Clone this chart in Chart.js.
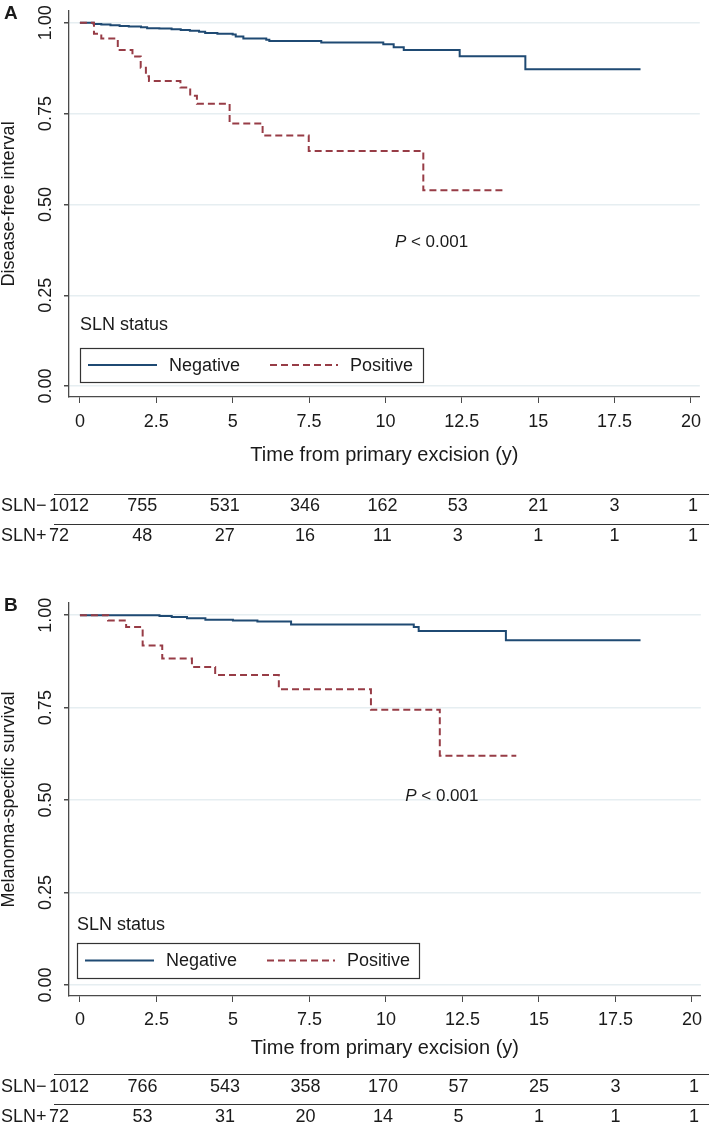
<!DOCTYPE html>
<html>
<head>
<meta charset="utf-8">
<title>SLN status survival curves</title>
<script src="https://cdn.jsdelivr.net/npm/chart.js@4.4.1/dist/chart.umd.min.js"></script>
<style>
   html, body { margin: 0; padding: 0; background: #fff; }
   #wrap { position: relative; width: 709px; height: 1125px; }
   canvas { position: absolute; left: 0; }
</style>
</head>
<body>
<div id="wrap">
   <canvas id="chartA" width="709" height="560" style="top:0px"></canvas>
   <canvas id="chartB" width="709" height="565" style="top:560px"></canvas>
</div>
<script>
// #region Data
const xTicks = [0, 2.5, 5, 7.5, 10, 12.5, 15, 17.5, 20];
const yTicks = [0, 0.25, 0.5, 0.75, 1];
const groupLabels = ['Negative', 'Positive'];
const riskRowLabels = ['SLN\u2212', 'SLN+'];

// Panel A - disease-free interval
const dfiNegTime = [0, 0.45, 0.7, 1.0, 1.3, 1.6, 2.0, 2.2, 2.6, 3.0, 3.3, 3.6, 3.9, 4.1, 4.5, 5.0, 5.1, 5.35, 6.1, 6.2, 7.9, 9.93, 10.27, 10.6, 12.43, 14.58, 18.35];
const dfiNegSurv = [1, 0.997, 0.995, 0.993, 0.991, 0.990, 0.988, 0.985, 0.984, 0.982, 0.980, 0.978, 0.975, 0.972, 0.970, 0.968, 0.962, 0.957, 0.953, 0.950, 0.946, 0.941, 0.933, 0.925, 0.908, 0.872, 0.872];
const dfiPosTime = [0, 0.46, 0.70, 1.24, 1.72, 1.99, 2.16, 2.26, 3.29, 3.61, 3.83, 4.90, 5.98, 7.49, 11.24, 13.96];
const dfiPosSurv = [1, 0.970, 0.957, 0.925, 0.907, 0.876, 0.853, 0.840, 0.822, 0.799, 0.777, 0.723, 0.690, 0.647, 0.539, 0.539];
const dfiRiskNeg = [1012, 755, 531, 346, 162, 53, 21, 3, 1];
const dfiRiskPos = [72, 48, 27, 16, 11, 3, 1, 1, 1];

// Panel B - melanoma-specific survival
const mssNegTime = [0, 2.6, 3.0, 3.5, 4.1, 5.0, 5.8, 6.9, 10.91, 11.07, 13.92, 18.32];
const mssNegSurv = [1, 0.998, 0.995, 0.992, 0.988, 0.986, 0.983, 0.975, 0.968, 0.957, 0.932, 0.932];
const mssPosTime = [0, 0.92, 1.51, 2.05, 2.69, 3.66, 4.42, 6.5, 9.51, 11.76, 14.26];
const mssPosSurv = [1, 0.986, 0.968, 0.918, 0.883, 0.860, 0.838, 0.800, 0.744, 0.620, 0.620];
const mssRiskNeg = [1012, 766, 543, 358, 170, 57, 25, 3, 1];
const mssRiskPos = [72, 53, 31, 20, 14, 5, 1, 1, 1];
// #endregion

const fontFamily = '"Liberation Sans", Arial, Helvetica, sans-serif';
const textColor = '#1a1a1a';
const axisColor = '#4a4a4a';
const gridColor = 'rgb(230,238,241)';
const negColor = '#1f4a73';
const posColor = '#973c46';
// small nudges of the at-risk numbers relative to their tick (the table was hand-set in the original)
const riskNudge = [0, -14, -8, -4, -3, -4, 0, 0, 2];

// ***********************
// Name:    panelPlugin
// Purpose: Draws panel letter, P value, SLN legend and number-at-risk table.
// *************************
const panelPlugin = {
   id: 'panelExtras',
   afterDraw(chart, args, opts) {
      const ctx = chart.ctx;
      const xs = chart.scales.x;
      const ys = chart.scales.y;
      ctx.save();

      // panel letter
      ctx.fillStyle = textColor;
      ctx.font = `bold 19px ${fontFamily}`;
      ctx.textAlign = 'left';
      ctx.textBaseline = 'middle';
      ctx.fillText(opts.letter, 4, opts.letterY);

      // P value
      const px = xs.getPixelForValue(opts.pAt[0]);
      const py = ys.getPixelForValue(opts.pAt[1]);
      ctx.font = `italic 17px ${fontFamily}`;
      ctx.fillText('P', px, py);
      const pw = ctx.measureText('P').width;
      ctx.font = `17px ${fontFamily}`;
      ctx.fillText(' < 0.001', px + pw, py);

      // legend
      const lg = opts.legend;
      ctx.font = `18px ${fontFamily}`;
      ctx.fillText('SLN status', lg.x, lg.statusY);
      ctx.strokeStyle = '#333';
      ctx.lineWidth = 1.2;
      ctx.strokeRect(lg.x + 0.5, lg.top + 0.5, lg.right - lg.x, lg.bottom - lg.top);
      const itemY = (lg.top + lg.bottom) / 2;
      const samples = [[lg.x + 8, lg.x + 77, lg.x + 89], [lg.x + 190, lg.x + 258, lg.x + 270]];
      chart.data.datasets.forEach((ds, i) => {
         ctx.strokeStyle = ds.borderColor;
         ctx.lineWidth = 2;
         ctx.setLineDash(ds.borderDash || []);
         ctx.beginPath();
         ctx.moveTo(samples[i][0], itemY);
         ctx.lineTo(samples[i][1], itemY);
         ctx.stroke();
         ctx.setLineDash([]);
         ctx.fillStyle = textColor;
         ctx.fillText(ds.label, samples[i][2], itemY + 1);
      });

      // number at risk table
      ctx.strokeStyle = '#333';
      ctx.lineWidth = 1.2;
      ctx.font = `18px ${fontFamily}`;
      opts.risk.forEach((counts, r) => {
         const lineY = opts.tableTop + r * 30;
         ctx.beginPath();
         ctx.moveTo(54, lineY + 0.5);
         ctx.lineTo(709, lineY + 0.5);
         ctx.stroke();
         const rowY = lineY + opts.rowOffset;
         ctx.textAlign = 'left';
         ctx.fillText(riskRowLabels[r], 1, rowY);
         counts.forEach((n, i) => {
            if (i === 0) {
               ctx.textAlign = 'left';
               ctx.fillText(String(n), 49, rowY);
            }
            else {
               ctx.textAlign = 'center';
               ctx.fillText(String(n), xs.getPixelForValue(xTicks[i]) + riskNudge[i], rowY);
            }
         });
      });
      ctx.restore();
   }
};

// ***********************
// Name:    makePanel
// Purpose: Builds one Kaplan-Meier panel on the given canvas.
// *************************
function makePanel(canvasId, cfg) {
   const toPts = (t, s) => t.map((v, i) => ({ x: v, y: s[i] }));
   const config = {
      type: 'line',
      data: {
         datasets: [
            {
               label: groupLabels[0],
               data: toPts(cfg.negT, cfg.negS),
               borderColor: negColor,
               borderWidth: 2,
               stepped: true,
               pointRadius: 0,
               fill: false,
               order: 1
            },
            {
               label: groupLabels[1],
               data: toPts(cfg.posT, cfg.posS),
               borderColor: posColor,
               borderWidth: 2,
               borderDash: [7, 4],
               stepped: true,
               pointRadius: 0,
               fill: false,
               order: 0
            }
         ]
      },
      options: {
         responsive: false,
         animation: false,
         events: [],
         layout: { padding: { left: 0, right: 3, top: cfg.padTop, bottom: 0 } },
         plugins: {
            legend: { display: false },
            tooltip: { enabled: false },
            panelExtras: cfg.extras
         },
         scales: {
            x: {
               type: 'linear',
               min: -0.357,
               max: 20.29,
               afterBuildTicks: (s) => { s.ticks = xTicks.map(v => ({ value: v })); },
               afterFit: (s) => { s.height = cfg.xHeight; },
               grid: { drawOnChartArea: false, drawTicks: true, tickLength: 6, color: axisColor },
               border: { display: true, color: axisColor, width: 1.3 },
               ticks: {
                  color: textColor,
                  font: { family: fontFamily, size: 18 },
                  padding: cfg.xTickPad,
                  maxRotation: 0,
                  autoSkip: false,
                  callback: (v) => String(v)
               },
               title: {
                  display: true,
                  text: 'Time from primary excision (y)',
                  color: textColor,
                  font: { family: fontFamily, size: 20, lineHeight: 1.2 },
                  padding: { top: 0, bottom: cfg.xTitlePad }
               }
            },
            y: {
               type: 'linear',
               min: -0.03,
               max: 1.033,
               afterBuildTicks: (s) => { s.ticks = yTicks.map(v => ({ value: v })); },
               afterFit: (s) => { s.width = 69; },
               grid: { drawOnChartArea: true, drawTicks: true, tickLength: 5, color: gridColor, tickColor: axisColor, lineWidth: 1.5 },
               border: { display: true, color: axisColor, width: 1.3 },
               ticks: {
                  color: textColor,
                  font: { family: fontFamily, size: 18 },
                  padding: 0,
                  minRotation: 90,
                  maxRotation: 90,
                  crossAlign: 'center',
                  autoSkip: false,
                  callback: (v) => v.toFixed(2)
               },
               title: {
                  display: true,
                  text: cfg.yTitle,
                  color: textColor,
                  font: { family: fontFamily, size: 18, lineHeight: 1 },
                  padding: 0
               }
            }
         }
      },
      plugins: [panelPlugin]
   };
   return new Chart(document.getElementById(canvasId), config);
}

makePanel('chartA', {
   negT: dfiNegTime, negS: dfiNegSurv, posT: dfiPosTime, posS: dfiPosSurv,
   yTitle: 'Disease-free interval',
   padTop: 5, xHeight: 163, xTickPad: 8, xTitlePad: 93,
   extras: {
      letter: 'A', letterY: 14,
      pAt: [10.31, 0.397],
      legend: { x: 80, statusY: 325, top: 348, bottom: 382, right: 423 },
      risk: [dfiRiskNeg, dfiRiskPos],
      tableTop: 494, rowOffset: 12
   }
});

makePanel('chartB', {
   negT: mssNegTime, negS: mssNegSurv, posT: mssPosTime, posS: mssPosSurv,
   yTitle: 'Melanoma-specific survival',
   padTop: 43, xHeight: 129, xTickPad: 7, xTitlePad: 65,
   extras: {
      letter: 'B', letterY: 46,
      pAt: [10.63, 0.511],
      legend: { x: 77, statusY: 365, top: 383, bottom: 418, right: 419 },
      risk: [mssRiskNeg, mssRiskPos],
      tableTop: 514, rowOffset: 13
   }
});
</script>
</body>
</html>
